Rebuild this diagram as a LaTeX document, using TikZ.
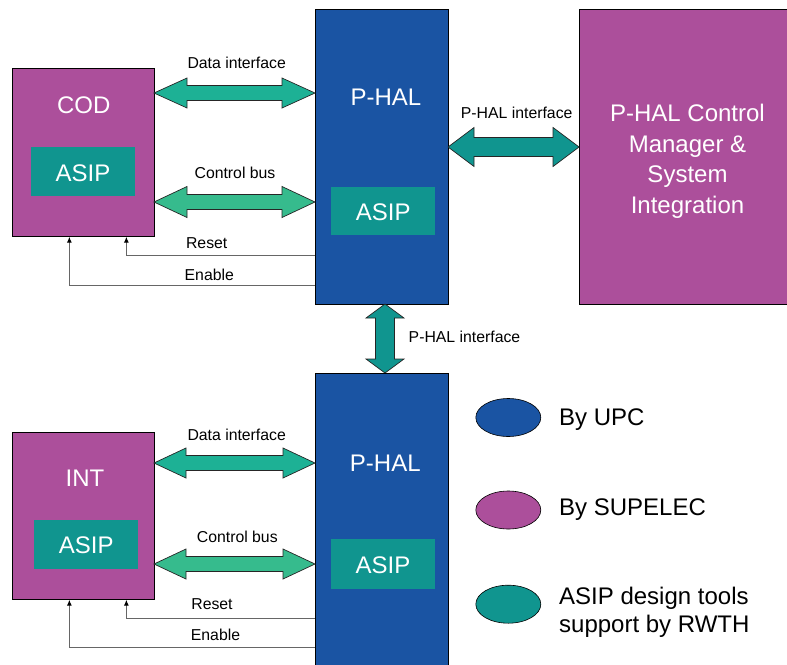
\documentclass[tikz,border=0pt]{standalone}
\usepackage{fontspec}
\setmainfont{Liberation Sans}
\usetikzlibrary{calc,arrows.meta,shapes.geometric}
\definecolor{upc}{HTML}{1A54A3}
\definecolor{sup}{HTML}{AC4F9B}
\definecolor{asip}{HTML}{10958F}
\definecolor{dataarr}{HTML}{1DB195}
\definecolor{ctrlarr}{HTML}{36BB8D}
\definecolor{sig}{HTML}{666666}
% horizontal double block arrow: from, to, head length, head half height, shaft half height, colour
\newcommand\hbus[6]{%
  \draw[busline, fill=#6] (#1) -- ($(#1)+(#3,-#4)$) -- ($(#1)+(#3,-#5)$) -- ($(#2)+(-#3,-#5)$)
    -- ($(#2)+(-#3,-#4)$) -- (#2) -- ($(#2)+(-#3,#4)$) -- ($(#2)+(-#3,#5)$)
    -- ($(#1)+(#3,#5)$) -- ($(#1)+(#3,#4)$) -- cycle;}
% vertical double block arrow: top, bottom, head length, head half width, shaft half width, colour
\newcommand\vbus[6]{%
  \draw[busline, fill=#6] (#1) -- ($(#1)+(#4,#3)$) -- ($(#1)+(#5,#3)$) -- ($(#2)+(#5,-#3)$)
    -- ($(#2)+(#4,-#3)$) -- (#2) -- ($(#2)+(-#4,-#3)$) -- ($(#2)+(-#5,-#3)$)
    -- ($(#1)+(-#5,#3)$) -- ($(#1)+(-#4,#3)$) -- cycle;}
\begin{document}
\begin{tikzpicture}[x=1pt,y=-1pt,
  box/.style={draw=black, line width=0.7pt, inner sep=0pt, anchor=north west},
  asipbox/.style={fill=asip, inner sep=0pt, anchor=north west},
  big/.style={font=\fontsize{24}{30.5}\selectfont, text=white, inner sep=0pt, text height=17.2pt, text depth=0pt},
  lbl/.style={font=\fontsize{15.8}{19}\selectfont, inner sep=0pt, text height=11.3pt, text depth=0pt},
  legtxt/.style={font=\fontsize{24}{28}\selectfont, inner sep=0pt, anchor=west},
  legell/.style={ellipse, draw=black, line width=0.6pt, minimum width=65pt, minimum height=38pt, inner sep=0pt},
  busline/.style={draw=black!85, line width=0.7pt, line join=miter},
  sigline/.style={draw=sig, line width=1pt, -{Latex[length=6pt,width=5pt,color=black]}}
]
\useasboundingbox (0,0) rectangle (787,664);
\clip (0,0) rectangle (787,664);

% ---------- top half ----------
\node[box, fill=sup, minimum width=142pt, minimum height=168pt] (cod) at (12,68) {};
\node[asipbox, minimum width=104pt, minimum height=49pt] (asipA) at (31,147) {};
\node[big] (codt) at (83.7,105) {COD};
\node[big] (asipAt) at (83,172.7) {ASIP};

\node[box, fill=upc, minimum width=133pt, minimum height=295pt] (phal1) at (315,9) {};
\node[asipbox, minimum width=104pt, minimum height=48pt] (asipB) at (331,187) {};
\node[big] (phal1t) at (386,97.2) {P-HAL};
\node[big] (asipBt) at (383.3,212) {ASIP};

\node[box, fill=sup, minimum width=215pt, minimum height=295pt] (ctrl) at (579,9) {};
\node[font=\fontsize{24}{30.5}\selectfont, text=white, align=center, inner sep=0pt] (ctrlt) at (687.5,161.5)
  {P-HAL Control\\Manager \&\\System\\Integration};

\coordinate (d1a) at (154,93);  \coordinate (d1b) at (315,93);
\coordinate (c1a) at (154,202); \coordinate (c1b) at (315,202);
\hbus{d1a}{d1b}{33}{15}{7.5}{dataarr}
\hbus{c1a}{c1b}{33}{15.5}{7.5}{ctrlarr}
\node[lbl] (d1l) at (236.7,62.5) {Data interface};
\node[lbl] (c1l) at (235,173) {Control bus};

\coordinate (p1a) at (448,147); \coordinate (p1b) at (579,147);
\hbus{p1a}{p1b}{26}{19.5}{9.5}{asip}
\node[lbl] (p1l) at (516.7,113.3) {P-HAL interface};

\coordinate (r1) at (315,255); \coordinate (e1) at (315,285);
\draw[sigline] (r1) -| ([xshift=43pt]cod.south);
\draw[sigline] (e1) -| ([xshift=-14pt]cod.south);
\node[lbl] (r1l) at (206.7,243) {Reset};
\node[lbl] (e1l) at (209.3,275) {Enable};

% ---------- vertical interface ----------
\coordinate (va) at (385,304); \coordinate (vb) at (385,373);
\vbus{va}{vb}{14}{19}{9.5}{asip}
\node[lbl] (vl) at (464.5,336.7) {P-HAL interface};

% ---------- bottom half ----------
\node[box, fill=sup, minimum width=142pt, minimum height=167pt] (int) at (12,432) {};
\node[asipbox, minimum width=104pt, minimum height=49pt] (asipC) at (34,520) {};
\node[big] (intt) at (85,478) {INT};
\node[big] (asipCt) at (86.3,545.3) {ASIP};

\node[box, fill=upc, minimum width=133pt, minimum height=300pt] (phal2) at (315,373) {};
\node[asipbox, minimum width=104pt, minimum height=50pt] (asipD) at (331,539) {};
\node[big] (phal2t) at (385.3,463.3) {P-HAL};
\node[big] (asipDt) at (383,565) {ASIP};

\coordinate (d2a) at (154,463); \coordinate (d2b) at (315,463);
\coordinate (c2a) at (154,564); \coordinate (c2b) at (315,564);
\hbus{d2a}{d2b}{32}{15}{7.5}{dataarr}
\hbus{c2a}{c2b}{32}{15}{7.5}{ctrlarr}
\node[lbl] (d2l) at (236.7,435.3) {Data interface};
\node[lbl] (c2l) at (237.3,537.3) {Control bus};

\coordinate (r2) at (315,618); \coordinate (e2) at (315,647);
\draw[sigline] (r2) -| ([xshift=43pt]int.south);
\draw[sigline] (e2) -| ([xshift=-14pt]int.south);
\node[lbl] (r2l) at (212,604) {Reset};
\node[lbl] (e2l) at (215.5,635) {Enable};

% ---------- legend ----------
\node[legell, fill=upc] (lg1) at (508.3,417.5) {};
\node[legell, fill=sup] (lg2) at (508.3,510) {};
\node[legell, fill=asip] (lg3) at (508.3,604.2) {};
\node[legtxt, text height=17.2pt, text depth=0pt] (lg1t) at (559,417) {By UPC};
\node[legtxt, text height=17.2pt, text depth=0pt] (lg2t) at (559,507) {By SUPELEC};
\node[legtxt, align=left] (lg3t) at (559,612) {ASIP design tools\\support by RWTH};
\end{tikzpicture}
\end{document}
